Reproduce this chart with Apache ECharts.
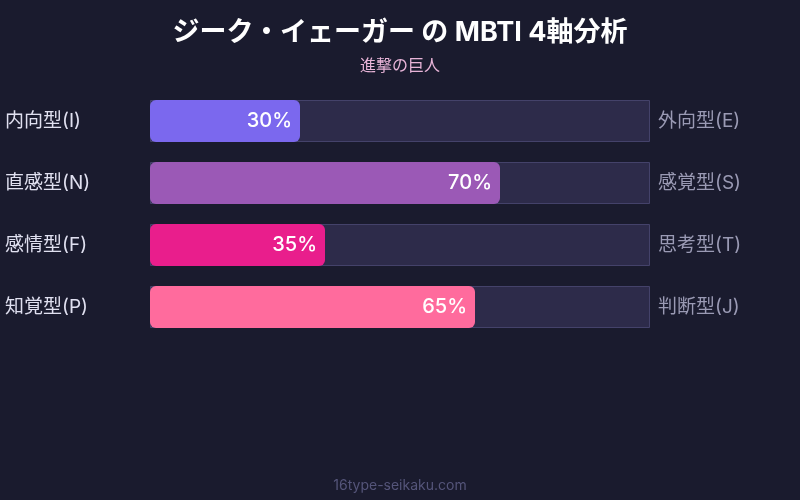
<!DOCTYPE html>
<html><head><meta charset="utf-8">
<script src="https://cdn.jsdelivr.net/npm/echarts@6/dist/echarts.min.js"></script>
<style>html,body{margin:0;padding:0;background:#1a1b2e;}#c{width:800px;height:500px;}</style>
</head><body><div id="c"></div>
<script>
const leftLabels = ['内向型(I)', '直感型(N)', '感情型(F)', '知覚型(P)'];
const rightLabels = ['外向型(E)', '感覚型(S)', '思考型(T)', '判断型(J)'];
const values = [30, 70, 35, 65];
const colors = ['#7b68ee', '#9b59b6', '#e91e8c', '#ff6b9d'];
const trackMax = [100, 100, 100, 100];

const font = 'Inter, "Noto Sans CJK JP", sans-serif';
const chart = echarts.init(document.getElementById('c'));
chart.setOption({
  backgroundColor: '#1a1b2e',
  animation: false,
  title: [
    { text: 'ジーク・イェーガー の MBTI 4軸分析', left: 'center', top: 14,
      textStyle: { color: '#ffffff', fontSize: 27, fontWeight: 'bold', fontFamily: font } },
    { text: '進撃の巨人', left: 'center', top: 53,
      textStyle: { color: '#e8b4d8', fontSize: 16, fontWeight: 'normal', fontFamily: font } },
    { text: '16type-seikaku.com', left: 'center', top: 474,
      textStyle: { color: '#55557a', fontSize: 14, fontWeight: 'normal', fontFamily: font } }
  ],
  grid: { left: 150, right: 150, top: 90, height: 248 },
  xAxis: { type: 'value', min: 0, max: 100, show: false },
  yAxis: [
    { type: 'category', data: leftLabels, inverse: true, position: 'left',
      axisLine: { show: false }, axisTick: { show: false },
      axisLabel: { color: '#e0e0f0', fontSize: 19, fontFamily: font, align: 'left', margin: 145, padding: [0, 0, 3, 0] } },
    { type: 'category', data: rightLabels, inverse: true, position: 'right',
      axisLine: { show: false }, axisTick: { show: false },
      axisLabel: { color: '#9a9ab4', fontSize: 19, fontFamily: font, margin: 8, padding: [0, 0, 3, 0] } }
  ],
  series: [
    { type: 'bar', data: trackMax, barWidth: 42, barGap: '-100%', silent: true,
      itemStyle: { color: '#2d2b4a', borderColor: '#44426a', borderWidth: 1 }, z: 1 },
    { type: 'bar', barWidth: 42, z: 2,
      data: values.map((v, i) => ({ value: v, itemStyle: { color: colors[i] } })),
      itemStyle: { borderRadius: 6 },
      label: { show: true, position: 'insideRight', distance: 8, formatter: '{c}%',
        color: '#ffffff', fontSize: 20, fontWeight: 500, fontFamily: font } }
  ]
});
</script></body></html>
